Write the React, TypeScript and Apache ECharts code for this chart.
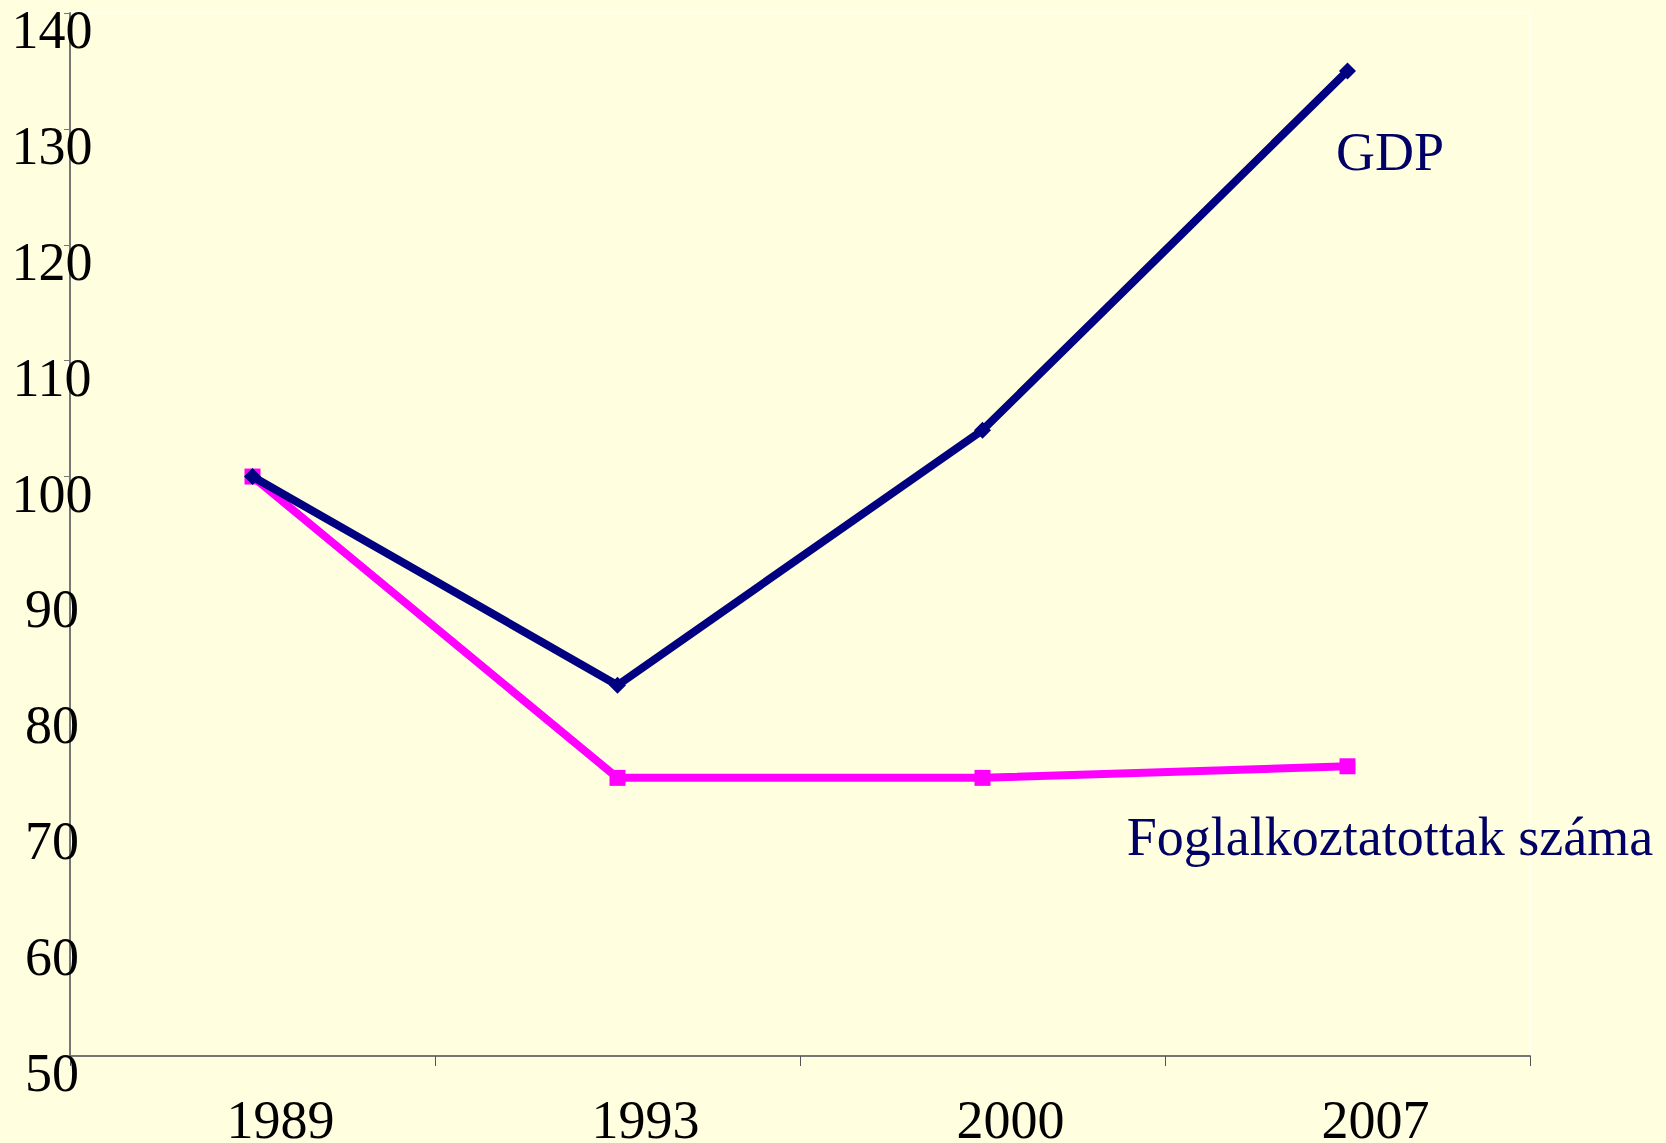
import React, { useEffect, useRef } from "react";
import * as echarts from "echarts";

const years = ["1989", "1993", "2000", "2007"];
const seriesNames = ["GDP", "Foglalkoztatottak száma"];
const gdpValues = [100, 82, 104, 135];
const employmentValues = [100, 74, 74, 75];
const yMin = 50;
const yMax = 140;
const yInterval = 10;

const FONT = "'Liberation Serif', 'Times New Roman', serif";

export default function App() {
  const ref = useRef<HTMLDivElement>(null);
  useEffect(() => {
    if (!ref.current) return;
    const chart = echarts.init(ref.current, null, { renderer: "svg" });
    chart.setOption({
      animation: false,
      backgroundColor: "#FFFFE0",
      grid: {
        left: 70,
        top: 13,
        right: 136,
        bottom: 87,
        show: true,
        backgroundColor: "transparent",
        borderColor: "#ffffff",
        borderWidth: 1,
        outerBoundsMode: "none",
        containLabel: false,
      },
      xAxis: {
        type: "category",
        data: years,
        boundaryGap: true,
        axisLine: { lineStyle: { color: "#777777", width: 2 } },
        axisTick: { show: true, length: 10, lineStyle: { color: "#555555", width: 1 } },
        axisLabel: {
          color: "#000000",
          fontFamily: FONT,
          fontSize: 54,
          margin: 44,
          lineHeight: 40,
          padding: [0, 0, 0, 56],
        },
        splitLine: { show: false },
      },
      yAxis: {
        type: "value",
        min: yMin,
        max: yMax,
        interval: yInterval,
        axisLine: { show: true, lineStyle: { color: "#777777", width: 2 } },
        axisTick: { show: true, length: 6, lineStyle: { color: "#777777", width: 1 } },
        axisLabel: {
          color: "#000000",
          fontFamily: FONT,
          fontSize: 54,
          margin: 18,
          align: "center",
          verticalAlign: "top",
          lineHeight: 34,
        },
        splitLine: { show: false },
      },
      series: [
        {
          name: seriesNames[0],
          type: "line",
          data: gdpValues,
          symbol: "diamond",
          symbolSize: 17,
          lineStyle: { color: "#000080", width: 8 },
          itemStyle: { color: "#000080" },
          z: 3,
        },
        {
          name: seriesNames[1],
          type: "line",
          data: employmentValues,
          symbol: "rect",
          symbolSize: 16,
          lineStyle: { color: "#FF00FF", width: 8 },
          itemStyle: { color: "#FF00FF" },
          z: 2,
        },
      ],
      graphic: [
        {
          type: "text",
          x: 1390,
          y: 152,
          style: {
            text: seriesNames[0],
            fill: "#000066",
            font: `54px ${FONT}`,
            align: "center",
            verticalAlign: "middle",
          },
        },
        {
          type: "text",
          x: 1390,
          y: 837,
          style: {
            text: seriesNames[1],
            fill: "#000066",
            font: `54px ${FONT}`,
            align: "center",
            verticalAlign: "middle",
          },
        },
      ],
    });
    return () => chart.dispose();
  }, []);
  return (
    <div
      ref={ref}
      style={{ position: "fixed", left: 0, top: 0, width: 1666, height: 1143 }}
    />
  );
}
